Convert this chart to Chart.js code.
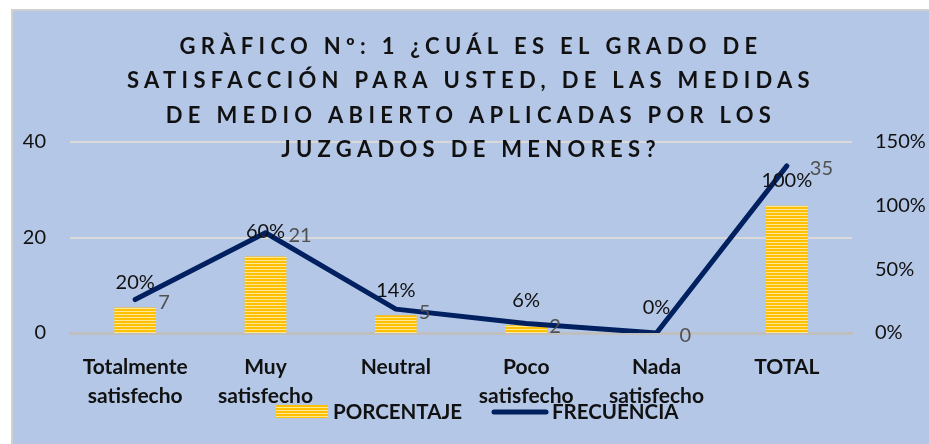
<!DOCTYPE html>
<html>
<head>
<meta charset="utf-8">
<script src="https://cdn.jsdelivr.net/npm/chart.js@4.4.1/dist/chart.umd.min.js"></script>
<style>
  body { margin: 0; background: #ffffff; }
  #wrap { width: 929px; height: 444px; position: relative; }
</style>
</head>
<body>
<div id="wrap"><canvas id="grafico"></canvas></div>
<script>
const categorias = [
    ['Totalmente', 'satisfecho'],
    ['Muy', 'satisfecho'],
    'Neutral',
    ['Poco', 'satisfecho'],
    ['Nada', 'satisfecho'],
    'TOTAL'
];
const porcentaje = [20, 60, 14, 6, 0, 100];
const frecuencia = [7, 21, 5, 2, 0, 35];
const ticksIzq = [0, 20, 40];
const ticksDer = [0, 50, 100, 150];
const titulo = [
    'GRÀFICO Nº: 1 ¿CUÁL ES EL GRADO DE',
    'SATISFACCIÓN PARA USTED, DE LAS MEDIDAS',
    'DE MEDIO ABIERTO APLICADAS POR LOS',
    'JUZGADOS DE MENORES?'
];

// rayado amarillo de las barras
function rayas() {
    const c = document.createElement('canvas');
    c.width = 4;
    c.height = 3;
    const g = c.getContext('2d');
    g.fillStyle = '#FFC000';
    g.fillRect(0, 0, 4, 2);
    g.fillStyle = '#FFE89A';
    g.fillRect(0, 2, 4, 1);
    return g.createPattern(c, 'repeat');
}
const patron = rayas();

const fondo = {
    id: 'fondo',
    beforeDraw(chart) {
        const ctx = chart.ctx;
        ctx.save();
        ctx.fillStyle = '#B4C7E7';
        ctx.fillRect(11, 9, chart.width - 11, chart.height - 9);
        ctx.strokeStyle = '#D0D0D0';
        ctx.lineWidth = 2;
        ctx.beginPath();
        ctx.moveTo(12, chart.height);
        ctx.lineTo(12, 10);
        ctx.lineTo(chart.width, 10);
        ctx.stroke();
        ctx.restore();
    }
};

const titulos = {
    id: 'titulos',
    afterDraw(chart) {
        const ctx = chart.ctx;
        ctx.save();
        ctx.font = 'bold 22px Lato';
        ctx.letterSpacing = '5.3px';
        ctx.fillStyle = '#111111';
        ctx.textAlign = 'center';
        ctx.textBaseline = 'middle';
        titulo.forEach((t, i) => {
            ctx.fillText(t, 471, 47 + i * 34.3);
        });
        ctx.restore();
    }
};

const etiquetas = {
    id: 'etiquetas',
    afterDatasetsDraw(chart) {
        const ctx = chart.ctx;
        ctx.save();
        ctx.font = '20px Lato';
        ctx.textBaseline = 'middle';
        const barras = chart.getDatasetMeta(0).data;
        ctx.fillStyle = '#111111';
        ctx.textAlign = 'center';
        barras.forEach((b, i) => {
            ctx.fillText(porcentaje[i] + '%', b.x, b.y - 25);
        });
        const puntos = chart.getDatasetMeta(1).data;
        ctx.fillStyle = '#505050';
        ctx.textAlign = 'left';
        puntos.forEach((p, i) => {
            ctx.fillText(String(frecuencia[i]), p.x + 23, p.y + 3);
        });
        ctx.restore();
    }
};

const leyenda = {
    id: 'leyenda',
    afterDraw(chart) {
        const ctx = chart.ctx;
        const y = 412;
        ctx.save();
        ctx.fillStyle = patron;
        ctx.fillRect(276, 405, 52, 13);
        ctx.strokeStyle = '#002060';
        ctx.lineWidth = 5;
        ctx.lineCap = 'round';
        ctx.beginPath();
        ctx.moveTo(494, y);
        ctx.lineTo(546, y);
        ctx.stroke();
        ctx.font = 'bold 20.5px Lato';
        ctx.fillStyle = '#111111';
        ctx.textBaseline = 'middle';
        ctx.fillText(chart.data.datasets[0].label, 333, y);
        ctx.fillText(chart.data.datasets[1].label, 552, y);
        ctx.restore();
    }
};

const ctx = document.getElementById('grafico');
new Chart(ctx, {
    data: {
        labels: categorias,
        datasets: [
            {
                type: 'bar',
                label: 'PORCENTAJE',
                data: porcentaje,
                yAxisID: 'y1',
                backgroundColor: patron,
                borderWidth: 0,
                categoryPercentage: 1,
                barPercentage: 0.32,
                order: 2
            },
            {
                type: 'line',
                label: 'FRECUENCIA',
                data: frecuencia,
                yAxisID: 'y',
                borderColor: '#002060',
                borderWidth: 5,
                borderCapStyle: 'round',
                borderJoinStyle: 'round',
                pointRadius: 0,
                tension: 0,
                order: 1
            }
        ]
    },
    options: {
        responsive: true,
        maintainAspectRatio: false,
        animation: false,
        layout: { padding: { top: 142, left: 0, right: 0, bottom: 0 } },
        plugins: {
            legend: { display: false },
            tooltip: { enabled: false }
        },
        scales: {
            x: {
                grid: { display: false },
                border: { display: true, color: '#BFBFBF', width: 3 },
                ticks: {
                    color: '#111111',
                    font: { family: 'Lato', size: 21, weight: 'bold', lineHeight: 1.38 },
                    padding: 12,
                    maxRotation: 0,
                    autoSkip: false
                },
                afterFit(s) { s.height = 111; }
            },
            y: {
                position: 'left',
                min: 0,
                max: 40,
                afterBuildTicks(s) { s.ticks = ticksIzq.map(v => ({ value: v })); },
                grid: { color: '#D9D9D9', lineWidth: 2, drawTicks: false },
                border: { display: false },
                ticks: {
                    color: '#111111',
                    font: { family: 'Lato', size: 20 },
                    padding: 24
                },
                afterFit(s) { s.width = 70; }
            },
            y1: {
                position: 'right',
                min: 0,
                max: 150,
                afterBuildTicks(s) { s.ticks = ticksDer.map(v => ({ value: v })); },
                grid: { display: false, drawTicks: false },
                border: { display: false },
                ticks: {
                    color: '#111111',
                    font: { family: 'Lato', size: 20 },
                    padding: 23,
                    callback: v => v + '%'
                },
                afterFit(s) { s.width = 77; }
            }
        }
    },
    plugins: [fondo, etiquetas, titulos, leyenda]
});
</script>
</body>
</html>
